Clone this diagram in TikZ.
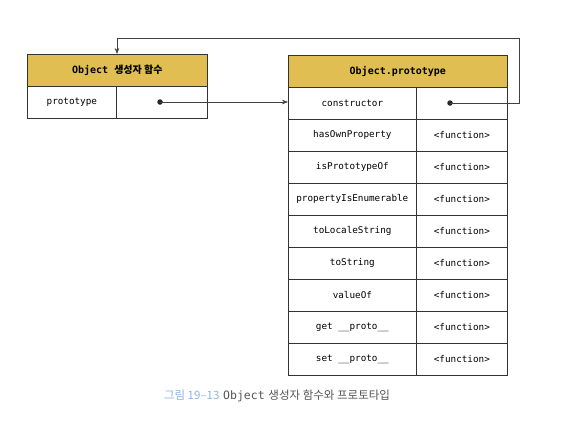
\documentclass[tikz,border=0pt]{standalone}
\usepackage{fontspec}
\setmonofont{DejaVu Sans Mono}
\newfontfamily\krfont{Noto Sans CJK KR}
\usetikzlibrary{arrows.meta}
\definecolor{hdr}{HTML}{E0BE52}
\definecolor{capblue}{HTML}{8DB6E0}
\definecolor{capgray}{HTML}{555555}
\begin{document}
\begin{tikzpicture}[x=1pt,y=-1pt,
  cell/.style={draw=black!80,line width=0.7pt,minimum height=32pt,inner sep=0pt,font=\ttfamily\fontsize{9.3}{11}\selectfont},
  hcell/.style={cell,fill=hdr,font=\ttfamily\bfseries\fontsize{10}{12}\selectfont},
  link/.style={draw=black!75,line width=0.6pt,-{Stealth[length=6pt,width=4.5pt]}},
  dotst/.style={circle,fill=black!85,inner sep=0pt,minimum size=5.5pt}]
\useasboundingbox (0,0) rectangle (585,426);
% left box
\node[hcell,minimum width=180pt,anchor=north west] (lh) at (27,54) {Object {\krfont\bfseries 생성자 함수}};
\node[cell,minimum width=89pt,anchor=north west] (lk) at (27,86) {prototype};
\node[cell,minimum width=91pt,anchor=north west] (lv) at (116,86) {};
\node[dotst] (ld) at (160,102) {};
% right box
\node[hcell,minimum width=219pt,anchor=north west] (rh) at (288,55) {Object.prototype};
\foreach \k/\v [count=\i from 0] in {constructor/,hasOwnProperty/<function>,isPrototypeOf/<function>,propertyIsEnumerable/<function>,toLocaleString/<function>,toString/<function>,valueOf/<function>,get \_\_proto\_\_/<function>,set \_\_proto\_\_/<function>}{
  \node[cell,minimum width=128pt,anchor=north west] (rk\i) at (288,87+32*\i) {\k};
  \node[cell,minimum width=91pt,anchor=north west] (rv\i) at (416,87+32*\i) {\v};
}
\node[dotst] (rd) at (450,103) {};
\coordinate (c1) at (519,103);
\coordinate (c2) at (519,38);
\coordinate (c3) at (117,38);
\draw[link] (ld.center) -- (rk0.west |- ld);
\draw[link] (rd.center) -- (c1) -- (c2) -- (c3) -- (c3 |- lh.north);
% caption
\node[anchor=center,font=\fontsize{11.5}{13}\selectfont] (cap) at (277,396)
  {{\krfont\color{capblue}그림 19–13} {\color{capgray}\ttfamily Object} {\krfont\color{capgray}생성자 함수와 프로토타입}};
\end{tikzpicture}
\end{document}
